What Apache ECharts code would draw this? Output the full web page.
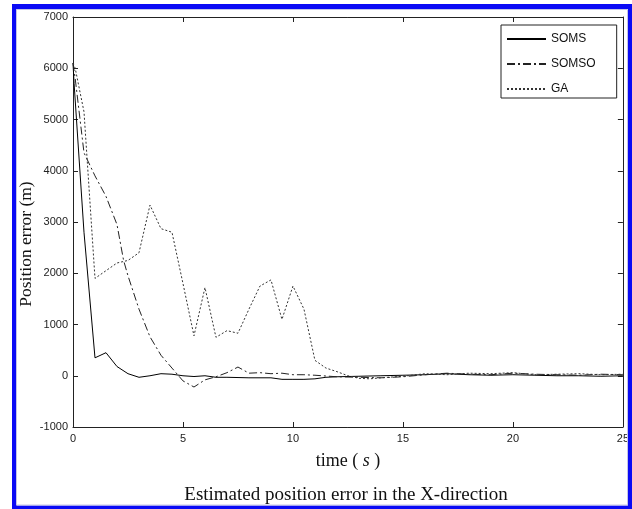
<!DOCTYPE html>
<html>
<head>
<meta charset="utf-8">
<script src="https://cdn.jsdelivr.net/npm/echarts@6/dist/echarts.min.js"></script>
<style>
  html, body { margin: 0; padding: 0; background: #fff; }
  #chart { width: 632px; height: 509px; }
</style>
</head>
<body>
<div id="chart"></div>
<script>
// Position error in the X-direction (m) against time (s) for three estimators
const somsTime  = [0, 0.05, 0.5, 1, 1.5, 2, 2.5, 3, 3.5, 4, 4.5, 5, 5.5, 6, 6.5, 7, 8, 9, 9.5, 10, 10.5, 11, 11.5, 12, 13, 14, 15, 16, 17, 18, 19, 20, 21, 22, 23, 24, 25];
const somsError = [6100, 5700, 2800, 350, 450, 180, 40, -30, 0, 40, 30, 0, -15, 0, -30, -30, -40, -40, -70, -70, -70, -60, -30, -20, -10, 0, 10, 20, 40, 20, 10, 20, 10, 0, 0, -10, 0];

const somsoTime  = [0, 0.1, 0.5, 1, 1.5, 2, 2.3, 2.5, 3, 3.5, 4, 4.5, 5, 5.5, 6, 6.5, 7, 7.5, 8, 8.5, 9, 9.5, 10, 10.5, 11, 12, 13, 14, 15, 16, 17, 18, 19, 20, 21, 22, 23, 24, 25];
const somsoError = [6100, 5800, 4350, 3900, 3500, 2950, 2250, 1950, 1300, 760, 400, 150, -100, -220, -80, -20, 60, 170, 50, 60, 40, 50, 20, 20, 10, -20, -30, -40, -20, 20, 50, 30, 20, 50, 30, 20, 10, 30, 20];

const gaTime  = [0, 0.1, 0.5, 1, 1.5, 2, 2.5, 3, 3.5, 4, 4.5, 5, 5.5, 6, 6.5, 7, 7.5, 8, 8.5, 9, 9.5, 10, 10.5, 11, 11.5, 12, 12.5, 13, 13.5, 14, 15, 16, 17, 18, 19, 20, 21, 22, 23, 24, 25];
const gaError = [6100, 6000, 5150, 1900, 2050, 2200, 2250, 2400, 3330, 2870, 2800, 1800, 780, 1720, 750, 880, 830, 1300, 1750, 1870, 1100, 1750, 1300, 300, 150, 80, 0, -50, -60, -40, -10, 40, 20, 50, 40, 60, 20, 30, 40, 20, 30];

const seriesNames = ['SOMS', 'SOMSO', 'GA'];
const xTicks = { min: 0, max: 25, step: 5 };
const yTicks = { min: -1000, max: 7000, step: 1000 };

const pairs = (t, v) => t.map((x, i) => [x, v[i]]);

const tickFont = { fontFamily: 'Liberation Sans, Arial, sans-serif', fontSize: 11, color: '#222' };
const serifFont = 'Liberation Serif, Times New Roman, serif';
const frameLine = { show: true, onZero: false, lineStyle: { color: '#222', width: 1 } };
const plainNumber = v => String(v);

const xBase = {
  type: 'value', min: xTicks.min, max: xTicks.max, interval: xTicks.step,
  axisLine: frameLine, splitLine: { show: false },
  axisTick: { show: true, inside: true, length: 5, lineStyle: { color: '#222' } }
};
const yBase = {
  type: 'value', min: yTicks.min, max: yTicks.max, interval: yTicks.step,
  axisLine: frameLine, splitLine: { show: false },
  axisTick: { show: true, inside: true, length: 5, lineStyle: { color: '#222' } }
};

const chart = echarts.init(document.getElementById('chart'), null, { renderer: 'canvas' });
chart.setOption({
  backgroundColor: '#fff',
  animation: false,
  title: {
    text: 'Estimated position error in the X-direction',
    left: 346, top: 486, textAlign: 'center', padding: 0,
    textStyle: { fontFamily: serifFont, fontSize: 19, fontWeight: 'normal', color: '#111' }
  },
  grid: { left: 73, top: 17, right: 9, bottom: 82, containLabel: false },
  legend: {
    data: seriesNames,
    orient: 'vertical',
    left: 501, top: 25,
    itemWidth: 39, itemHeight: 14, itemGap: 13,
    padding: [8, 21, 3, 5],
    backgroundColor: '#fff',
    borderColor: '#222', borderWidth: 1,
    itemStyle: { opacity: 0 },
    textStyle: { fontFamily: 'Liberation Sans, Arial, sans-serif', fontSize: 12, color: '#111' }
  },
  xAxis: [
    Object.assign({}, xBase, {
      position: 'bottom',
      axisLabel: Object.assign({ margin: 6, formatter: plainNumber }, tickFont),
      name: 'time ( {i|s} )',
      nameLocation: 'middle', nameGap: 25,
      nameTextStyle: {
        fontFamily: serifFont, fontSize: 18, color: '#111',
        rich: { i: { fontFamily: serifFont, fontSize: 18, fontStyle: 'italic', color: '#111' } }
      }
    }),
    Object.assign({}, xBase, { position: 'top', axisLabel: { show: false } })
  ],
  yAxis: [
    Object.assign({}, yBase, {
      position: 'left',
      axisLabel: Object.assign({ margin: 5, formatter: plainNumber }, tickFont),
      name: 'Position error (m)',
      nameLocation: 'middle', nameGap: 38, nameMoveOverlap: false,
      nameTextStyle: { fontFamily: serifFont, fontSize: 17.5, color: '#111', padding: [0, 44, 0, 0] }
    }),
    Object.assign({}, yBase, { position: 'right', axisLabel: { show: false } })
  ],
  series: [
    {
      name: seriesNames[0], type: 'line', data: pairs(somsTime, somsError),
      symbol: 'none', color: '#000',
      lineStyle: { color: '#000', width: 1, type: 'solid' }
    },
    {
      name: seriesNames[1], type: 'line', data: pairs(somsoTime, somsoError),
      symbol: 'none', color: '#222',
      lineStyle: { color: '#222', width: 1, type: [8, 3, 2, 3] }
    },
    {
      name: seriesNames[2], type: 'line', data: pairs(gaTime, gaError),
      symbol: 'none', color: '#333',
      lineStyle: { color: '#333', width: 1, type: [2, 2] }
    }
  ],
  graphic: [
    // blue picture frame
    { type: 'rect', shape: { x: 12, y: 4, width: 620, height: 5 }, style: { fill: '#0a0af5' }, z: 100, silent: true },
    { type: 'rect', shape: { x: 12, y: 4, width: 4.5, height: 505 }, style: { fill: '#0a0af5' }, z: 100, silent: true },
    { type: 'rect', shape: { x: 628, y: 4, width: 4, height: 505 }, style: { fill: '#0a0af5' }, z: 100, silent: true },
    { type: 'rect', shape: { x: 12, y: 505.5, width: 620, height: 3.5 }, style: { fill: '#0a0af5' }, z: 100, silent: true },
    { type: 'rect', shape: { x: 16.5, y: 9.5, width: 611, height: 495.5 }, style: { fill: 'none', stroke: '#c4c4e6', lineWidth: 1 }, z: 100, silent: true }
  ]
});
</script>
</body>
</html>
